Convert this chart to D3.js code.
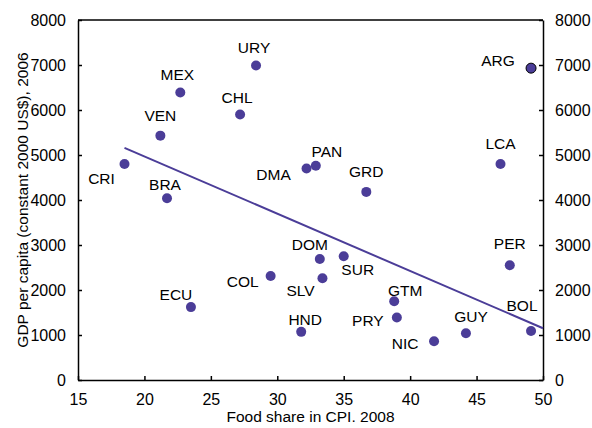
<!DOCTYPE html>
<html>
<head>
<meta charset="utf-8">
<script src="https://cdn.jsdelivr.net/npm/d3@7"></script>
<style>
  body { margin: 0; background: #fff; }
  text { font-family: "Liberation Sans", Arial, sans-serif; fill: #000; }
</style>
</head>
<body>
<div id="chart"></div>
<script>
var countries = ["CRI", "BRA", "VEN", "MEX", "CHL", "URY", "DMA", "PAN", "GRD", "LCA", "ARG",
                 "ECU", "COL", "HND", "DOM", "SUR", "SLV", "GTM", "PRY", "NIC", "GUY", "PER", "BOL"];
var foodShare = [18.5, 21.7, 21.2, 22.7, 27.2, 28.4, 32.2, 32.9, 36.7, 46.8, 49.1,
                 23.5, 29.5, 31.8, 33.2, 35.0, 33.4, 38.8, 39.0, 41.8, 44.2, 47.5, 49.1];
var gdpPerCapita = [4800, 4040, 5430, 6390, 5900, 6990, 4700, 4760, 4180, 4800, 6930,
                    1620, 2310, 1070, 2690, 2750, 2260, 1750, 1390, 860, 1040, 2550, 1090];
var trendX = [18.5, 50];
var trendY = [5160, 1150];
var xTicks = [15, 20, 25, 30, 35, 40, 45, 50];
var yTicks = [0, 1000, 2000, 3000, 4000, 5000, 6000, 7000, 8000];

// where each country label sits relative to its dot (px)
var labelOffset = {
    CRI: [-23, 20], BRA: [-2, -8], VEN: [0, -15], MEX: [-3, -12], CHL: [-3, -12],
    URY: [-2, -12], DMA: [-33, 11], PAN: [11, -9], GRD: [0, -15], LCA: [0, -15],
    ARG: [-33, -2], ECU: [-15, -7], COL: [-28, 11], HND: [4, -7], DOM: [-10, -9],
    SUR: [14, 19], SLV: [-22, 18], GTM: [11, -5], PRY: [-29, 9], NIC: [-29, 8],
    GUY: [5, -11], PER: [0, -16], BOL: [-9, -20]
};

function drawChart(){
    var width = 592, height = 428;
    var margin = {top: 20, right: 49, bottom: 48, left: 78};
    var color = "#4b3d98";

    var svg = d3.select("#chart").append("svg")
        .attr("width", width)
        .attr("height", height);

    var x = d3.scaleLinear()
        .domain([15, 50])
        .range([margin.left, width - margin.right]);

    var y = d3.scaleLinear()
        .domain([0, 8000])
        .range([height - margin.bottom, margin.top]);

    var fmt = d3.format("d");
    var xAxis = d3.axisBottom(x).tickValues(xTicks).tickFormat(fmt).tickSize(-4).tickSizeOuter(0).tickPadding(14);
    var yAxis = d3.axisLeft(y).tickValues(yTicks).tickFormat(fmt).tickSize(-4).tickSizeOuter(0).tickPadding(12);
    var yAxisRight = d3.axisRight(y).tickValues(yTicks).tickFormat(fmt).tickSize(-4).tickSizeOuter(0).tickPadding(12);

    svg.append("line")
        .attr("x1", margin.left).attr("x2", width - margin.right)
        .attr("y1", margin.top).attr("y2", margin.top)
        .attr("stroke", "#000").attr("stroke-width", 1.5);

    [[xAxis, "translate(0," + (height - margin.bottom) + ")"],
     [yAxis, "translate(" + margin.left + ",0)"],
     [yAxisRight, "translate(" + (width - margin.right) + ",0)"]].forEach(function(a){
        var g = svg.append("g").attr("transform", a[1]).call(a[0]);
        g.selectAll("path, line").attr("stroke", "#000").attr("stroke-width", 1.5);
        g.selectAll("text").style("font-size", "16px").attr("fill", "#000");
    });

    var line = d3.line()
        .x(function(d){ return x(d[0]); })
        .y(function(d){ return y(d[1]); });

    svg.append("path")
        .datum(d3.zip(trendX, trendY))
        .attr("d", line)
        .attr("fill", "none")
        .attr("stroke", color)
        .attr("stroke-width", 2);

    var pts = countries.map(function(c, i){ return {name: c, fx: foodShare[i], gdp: gdpPerCapita[i]}; });

    svg.selectAll("circle.dot")
        .data(pts)
        .enter().append("circle")
        .attr("class", "dot")
        .attr("cx", function(d){ return x(d.fx); })
        .attr("cy", function(d){ return y(d.gdp); })
        .attr("r", 5)
        .attr("fill", color)
        .attr("stroke", function(d){ return d.name == "ARG" ? "#000" : "none"; })
        .attr("stroke-width", 1);

    svg.selectAll("text.lab")
        .data(pts)
        .enter().append("text")
        .attr("class", "lab")
        .attr("x", function(d){ return x(d.fx) + labelOffset[d.name][0]; })
        .attr("y", function(d){ return y(d.gdp) + labelOffset[d.name][1]; })
        .attr("text-anchor", "middle")
        .style("font-size", "15.5px")
        .text(function(d){ return d.name; });

    svg.append("text")
        .attr("x", (margin.left + width - margin.right) / 2)
        .attr("y", 422)
        .attr("text-anchor", "middle")
        .style("font-size", "15.5px")
        .text("Food share in CPI. 2008");

    svg.append("text")
        .attr("transform", "translate(28," + (margin.top + height - margin.bottom) / 2 + ") rotate(-90)")
        .attr("text-anchor", "middle")
        .style("font-size", "15.5px")
        .text("GDP per capita (constant 2000 US$), 2006");
}

drawChart();
</script>
</body>
</html>
